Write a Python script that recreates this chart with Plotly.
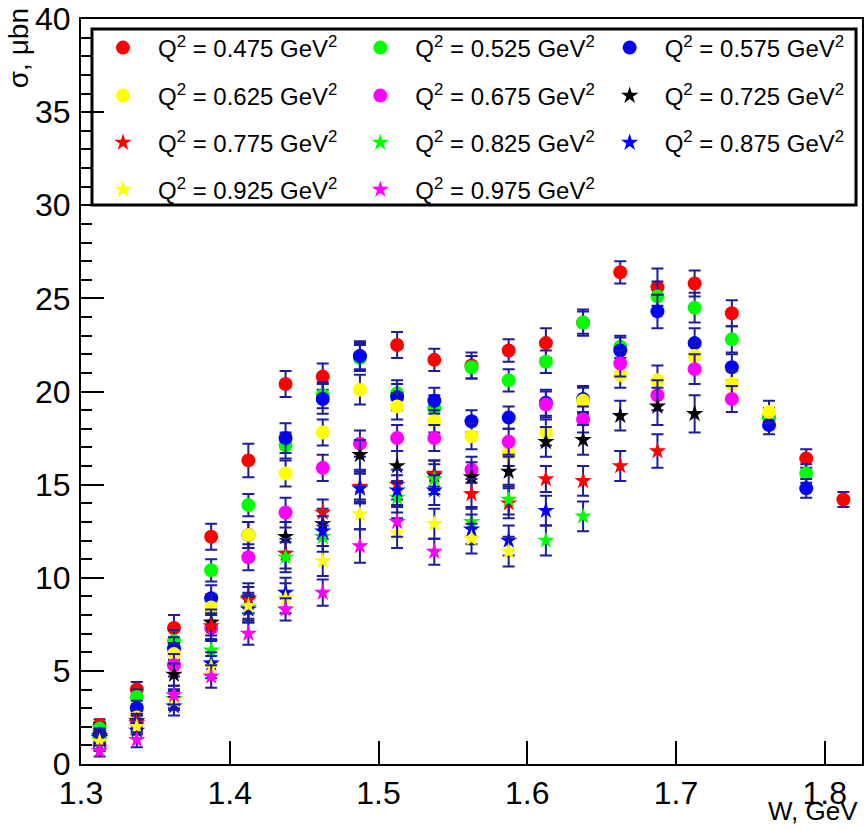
import plotly.graph_objects as go

# ---------------- data ----------------
W = [1.3125, 1.3375, 1.3625, 1.3875, 1.4125, 1.4375, 1.4625, 1.4875, 1.5125, 1.5375,
     1.5625, 1.5875, 1.6125, 1.6375, 1.6625, 1.6875, 1.7125, 1.7375, 1.7625, 1.7875, 1.8125]

Q2_LABELS = ["0.475", "0.525", "0.575", "0.625", "0.675", "0.725",
             "0.775", "0.825", "0.875", "0.925", "0.975"]

sig_q0475 = [2.1, 4.0, 7.3, 12.2, 16.3, 20.4, 20.8, 21.9, 22.5, 21.7, 21.4, 22.2, 22.6, 23.7,
             26.4, 25.6, 25.8, 24.2, 18.6, 16.4, 14.2]
err_q0475 = [0.3, 0.4, 0.7, 0.7, 0.9, 0.7, 0.7, 0.8, 0.7, 0.6, 0.7, 0.6, 0.8, 0.7,
             0.6, 1.0, 0.7, 0.7, 0.5, 0.5, 0.4]

sig_q0525 = [1.9, 3.6, 6.6, 10.4, 13.9, 17.1, 19.8, 21.8, 19.9, 19.1, 21.3, 20.6, 21.6, 23.7,
             22.4, 25.1, 24.5, 22.8, 18.6, 15.6]
err_q0525 = [0.3, 0.4, 0.6, 0.6, 0.6, 0.7, 0.7, 0.7, 0.7, 0.7, 0.6, 0.6, 0.6, 0.6,
             0.6, 0.8, 0.8, 0.7, 0.5, 0.5]

sig_q0575 = [1.6, 3.0, 6.2, 8.9, 12.3, 17.5, 19.6, 21.9, 19.7, 19.5, 18.4, 18.6, 19.4, 19.6,
             22.2, 24.3, 22.6, 21.3, 18.2, 14.8]
err_q0575 = [0.3, 0.4, 0.6, 0.7, 0.7, 0.8, 0.8, 0.7, 0.7, 0.7, 0.6, 0.6, 0.7, 0.7,
             0.7, 0.9, 0.8, 0.7, 0.5, 0.5]

sig_q0625 = [1.3, 2.5, 5.9, 8.4, 12.3, 15.6, 17.8, 20.1, 19.2, 18.4, 17.6, 16.7, 17.8, 19.5,
             20.9, 20.6, 21.9, 20.4, 18.9]
err_q0625 = [0.3, 0.4, 0.6, 0.7, 0.7, 0.7, 0.7, 0.8, 0.7, 0.6, 0.7, 0.7, 0.7, 0.7,
             0.7, 0.8, 0.8, 0.7, 0.6]

sig_q0675 = [1.0, 2.2, 5.3, 7.3, 11.1, 13.5, 15.9, 17.2, 17.5, 17.5, 15.8, 17.3, 19.3, 18.5,
             21.5, 19.8, 21.2, 19.6]
err_q0675 = [0.3, 0.4, 0.6, 0.7, 0.7, 0.8, 0.7, 0.7, 0.7, 0.7, 0.7, 0.7, 0.7, 0.7,
             0.7, 0.8, 0.8, 0.7]

sig_q0725 = [1.5, 2.3, 4.8, 7.6, 8.9, 12.2, 12.9, 16.6, 16.0, 15.5, 15.4, 15.7, 17.3, 17.4,
             18.7, 19.2, 18.8]
err_q0725 = [0.3, 0.4, 0.6, 0.7, 0.8, 0.8, 0.8, 0.8, 0.8, 0.8, 0.8, 0.8, 0.8, 0.8,
             0.8, 1.0, 1.0]

sig_q0775 = [1.4, 2.2, 3.5, 7.4, 8.8, 11.3, 13.5, 14.9, 15.0, 15.6, 14.5, 14.0, 15.3, 15.2,
             16.0, 16.8]
err_q0775 = [0.3, 0.4, 0.5, 0.7, 0.7, 0.8, 0.7, 0.8, 0.8, 0.7, 0.8, 0.8, 0.7, 0.8,
             0.8, 0.9]

sig_q0825 = [1.3, 2.0, 3.5, 6.1, 8.4, 11.1, 12.2, 14.8, 14.3, 15.3, 13.0, 14.2, 12.0, 13.3]
err_q0825 = [0.3, 0.4, 0.5, 0.6, 0.7, 0.8, 0.8, 0.8, 0.8, 0.8, 0.8, 0.8, 0.8, 0.8]

sig_q0875 = [1.4, 1.8, 3.1, 5.4, 8.3, 9.2, 12.5, 14.8, 14.7, 14.7, 12.6, 12.0, 13.6]
err_q0875 = [0.3, 0.4, 0.5, 0.6, 0.7, 0.8, 0.8, 0.8, 0.8, 0.8, 0.8, 0.8, 0.8]

sig_q0925 = [1.2, 2.0, 3.4, 5.2, 8.5, 8.9, 10.9, 13.4, 12.4, 12.9, 12.1, 11.4]
err_q0925 = [0.3, 0.4, 0.5, 0.6, 0.7, 0.8, 0.8, 0.8, 0.8, 0.8, 0.8, 0.8]

sig_q0975 = [0.7, 1.3, 3.7, 4.7, 7.0, 8.3, 9.2, 11.7, 13.0, 11.4]
err_q0975 = [0.3, 0.4, 0.5, 0.6, 0.6, 0.6, 0.7, 0.9, 0.8, 0.7]

SIGMAS = [sig_q0475, sig_q0525, sig_q0575, sig_q0625, sig_q0675, sig_q0725,
          sig_q0775, sig_q0825, sig_q0875, sig_q0925, sig_q0975]
ERRORS = [err_q0475, err_q0525, err_q0575, err_q0625, err_q0675, err_q0725,
          err_q0775, err_q0825, err_q0875, err_q0925, err_q0975]

X_TICKS = [1.3, 1.4, 1.5, 1.6, 1.7, 1.8]
Y_TICKS = [0, 5, 10, 15, 20, 25, 30, 35, 40]

# ---------------- styles ----------------
COLORS = ["#ff0000", "#00ff00", "#0000ff", "#ffff00", "#ff00ff", "#000000",
          "#ff0000", "#00ff00", "#0000ff", "#ffff00", "#ff00ff"]
SYMBOLS = ["circle"] * 5 + ["star"] * 6
SIZES = [14] * 5 + [13] * 6
ERR_COLOR = "#1c1c9c"
FONT = "Liberation Sans, Arial, sans-serif"

W_PX, H_PX = 864, 830
ML, MR, MT, MB = 81, 0, 19, 66
PW = W_PX - ML - MR
PH = H_PX - MT - MB


def px_x(px):
    return (px - ML) / PW


def px_y(py):
    return (H_PX - MB - py) / PH


# legend cell positions (marker centre x, row centre y), in pixels
COL_X = [123, 381, 631]
ROW_Y = [48, 96, 143, 190]
ITEM_W = 60

fig = go.Figure()

for i, (ys, es) in enumerate(zip(SIGMAS, ERRORS)):
    key = "legend" if i == 0 else f"legend{i + 1}"
    fig.add_trace(go.Scatter(
        x=W[:len(ys)], y=ys, mode="markers",
        name="Q<sup>2</sup> = " + Q2_LABELS[i] + " GeV<sup>2</sup>",
        marker=dict(symbol=SYMBOLS[i], size=SIZES[i], color=COLORS[i],
                    line=dict(width=0)),
        error_y=dict(type="data", array=es, visible=True, color=ERR_COLOR,
                     thickness=2, width=6),
        legend=key,
    ))
    r, c = divmod(i, 3)
    fig.layout[key] = dict(
        x=px_x(COL_X[c] - ITEM_W / 2 - 5), y=px_y(ROW_Y[r]),
        xanchor="left", yanchor="middle",
        orientation="v", itemwidth=ITEM_W,
        bgcolor="rgba(0,0,0,0)", borderwidth=0,
        font=dict(family=FONT, size=24, color="black"),
        itemclick=False, itemdoubleclick=False,
    )

# legend frame
fig.add_shape(type="rect", xref="paper", yref="paper",
              x0=px_x(92), x1=px_x(858), y0=px_y(205), y1=px_y(29),
              line=dict(color="black", width=3), fillcolor="white", layer="below")

fig.update_xaxes(range=[1.3, 1.825], tickvals=X_TICKS,
                 ticktext=[f"{v:.1f}" for v in X_TICKS],
                 ticks="inside", ticklen=23, tickwidth=2, tickcolor="black",
                 showline=True, linewidth=2, linecolor="black", mirror=True,
                 showgrid=False, zeroline=False, ticklabelstandoff=0,
                 tickfont=dict(family=FONT, size=32, color="black"))
fig.update_yaxes(range=[0, 40], tickvals=Y_TICKS,
                 ticks="inside", ticklen=23, tickwidth=2, tickcolor="black",
                 minor=dict(dtick=1, ticks="inside", ticklen=11, tickwidth=2,
                            tickcolor="black", showgrid=False),
                 showline=True, linewidth=2, linecolor="black", mirror=True,
                 showgrid=False, zeroline=False, ticklabelstandoff=2,
                 tickfont=dict(family=FONT, size=32, color="black"))

fig.add_annotation(text="σ, μbn", xref="paper", yref="paper",
                   x=px_x(18), y=px_y(6), xanchor="center", yanchor="top",
                   textangle=-90, showarrow=False,
                   font=dict(family=FONT, size=28, color="black"))
fig.add_annotation(text="W, GeV", xref="paper", yref="paper",
                   x=px_x(862), y=px_y(828), xanchor="right", yanchor="bottom",
                   showarrow=False, font=dict(family=FONT, size=26, color="black"))

fig.update_layout(width=W_PX, height=H_PX,
                  margin=dict(l=ML, r=MR, t=MT, b=MB),
                  plot_bgcolor="white", paper_bgcolor="white",
                  showlegend=True)

fig.write_html("out.html")
